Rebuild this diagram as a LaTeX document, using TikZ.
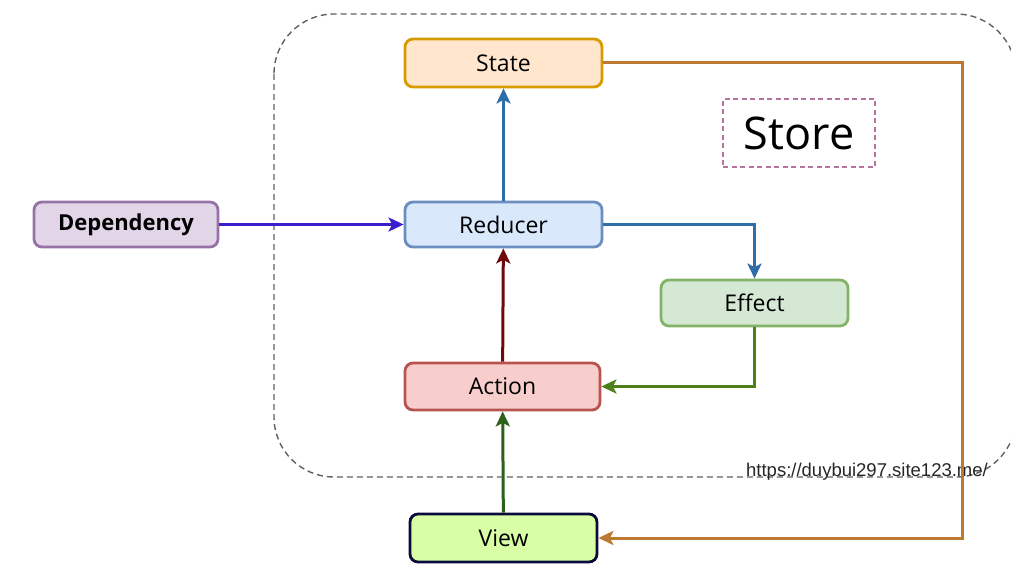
\documentclass[tikz,border=0pt]{standalone}
\usepackage{fontspec}
\setmainfont{Open Sans}
\newfontfamily\urlfont{Liberation Sans}
\usepackage{xcolor}
\usetikzlibrary{arrows.meta,positioning}

\definecolor{stateFill}{HTML}{FFE6CC}\definecolor{stateLine}{HTML}{D79B00}
\definecolor{depFill}{HTML}{E1D5E7}\definecolor{depLine}{HTML}{9673A6}
\definecolor{redFill}{HTML}{DAE8FC}\definecolor{redLine}{HTML}{6C8EBF}
\definecolor{effFill}{HTML}{D5E8D4}\definecolor{effLine}{HTML}{82B366}
\definecolor{actFill}{HTML}{F8CECC}\definecolor{actLine}{HTML}{B85450}
\definecolor{viewFill}{HTML}{D8FFA6}\definecolor{viewLine}{HTML}{0A0A3C}
\definecolor{storeLine}{HTML}{B5739D}
\definecolor{blueArrow}{HTML}{2E6DAA}
\definecolor{depArrow}{HTML}{3A1FCC}
\definecolor{redArrow}{HTML}{6F0A0A}
\definecolor{effArrow}{HTML}{4D7F1A}
\definecolor{viewArrow}{HTML}{2D6018}
\definecolor{backArrow}{HTML}{BC7A30}

\begin{document}
\begin{tikzpicture}[
    x=1pt, y=-1pt,
    box/.style={rectangle, rounded corners=8pt, line width=2.8pt, font=\fontsize{23}{27}\selectfont},
    statebox/.style={box, draw=stateLine, fill=stateFill, minimum width=197pt, minimum height=48pt},
    depbox/.style={box, draw=depLine, fill=depFill, minimum width=184pt, minimum height=45pt, font=\fontsize{22}{26}\selectfont\bfseries},
    reducerbox/.style={box, draw=redLine, fill=redFill, minimum width=197pt, minimum height=45pt},
    effectbox/.style={box, draw=effLine, fill=effFill, minimum width=187pt, minimum height=46pt},
    actionbox/.style={box, draw=actLine, fill=actFill, minimum width=195pt, minimum height=47pt},
    viewbox/.style={box, draw=viewLine, fill=viewFill, minimum width=187pt, minimum height=48pt},
    edge/.style={-{Stealth[length=15pt, width=14pt, inset=3.5pt]}, line width=3pt}
]
\useasboundingbox (0,0) rectangle (1011,588);

% Store area
\begin{scope}
\clip (0,0) rectangle (1011,588);
\draw[gray!75!black, line width=1.4pt, dash pattern=on 6pt off 4pt, rounded corners=60pt]
    (274,14) rectangle (1016,477);
\end{scope}
\node[draw=storeLine, line width=1.3pt, dash pattern=on 5pt off 3.5pt, minimum width=152pt, minimum height=68pt,
      font=\fontsize{45}{50}\selectfont] (store) at (799,133) {Store};

% Nodes
\node[statebox] (state) at (503.5,63) {State};
\node[depbox] (dep) at (126,224.5) {Dependency};
\node[reducerbox] (reducer) at (503.5,224.5) {Reducer};
\node[effectbox] (effect) at (754.5,303) {Effect};
\node[actionbox] (action) at (502.5,386.5) {Action};
\node[viewbox] (view) at (503.5,538) {View};

% Source
\node[font=\urlfont\fontsize{18.5}{22}\selectfont, text=black!85] (url) at (867,472) {https://duybui297.site123.me/};

% Edges
\draw[edge, blueArrow] (reducer) -- (state);
\draw[edge, depArrow] (dep) -- (reducer);
\draw[edge, blueArrow] (reducer.east) -| (effect.north);
\draw[edge, effArrow] (effect.south) |- (action.east);
\draw[edge, redArrow] (action) -- (reducer);
\draw[edge, viewArrow] (view) -- (action);
\coordinate (turn) at (962,63);
\draw[edge, backArrow] (state.east) -- (turn) |- (view.east);

\end{tikzpicture}
\end{document}
